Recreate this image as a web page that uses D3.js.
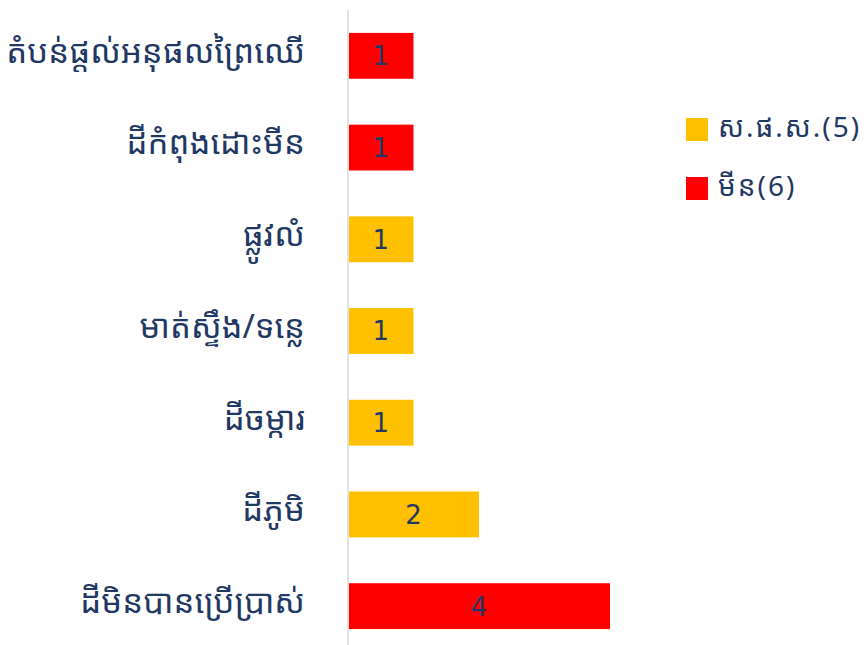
<!DOCTYPE html>
<html><head><meta charset="utf-8">
<script src="https://cdn.jsdelivr.net/npm/d3@7"></script>
<style>body{margin:0;background:#fff}svg{display:block}</style>
</head><body><svg id="c" width="867" height="645"></svg>
<script>
const categories = ["តំបន់ផ្តល់អនុផលព្រៃឈើ","ដីកំពុងដោះមីន","ផ្លូវលំ","មាត់ស្ទឹង/ទន្លេ","ដីចម្ការ","ដីភូមិ","ដីមិនបានប្រើប្រាស់"];
const values = [1,1,1,1,1,2,4];
const groups = ["mine","mine","uxo","uxo","uxo","uxo","mine"];
const seriesKeys = ["uxo","mine"];
const seriesNames = ["ស.ផ.ស.(5)","មីន(6)"];
const seriesColors = ["#FFC000","#FF0000"];

const svg = d3.select("#c");
const font = "'Noto Sans Khmer','Khmer OS','Khmer OS System','DejaVu Sans',sans-serif";
const x = d3.scaleLinear().domain([0,4]).range([348,610]);
const y = d3.scaleBand().domain(categories).range([10,652]).paddingInner(0.5).paddingOuter(0.25);
const color = d3.scaleOrdinal().domain(seriesKeys).range(seriesColors);

svg.append("line").attr("x1",348).attr("x2",348).attr("y1",10).attr("y2",645)
  .attr("stroke","#d9d9d9").attr("stroke-width",1.5);

const data = categories.map((c,i)=>({c,v:values[i],g:groups[i]}));
svg.selectAll("rect.bar").data(data).join("rect").attr("class","bar")
  .attr("x",x(0)+1).attr("y",d=>y(d.c)).attr("width",d=>x(d.v)-x(0)-1).attr("height",y.bandwidth())
  .attr("fill",d=>color(d.g));
svg.selectAll("text.val").data(data).join("text").attr("class","val")
  .attr("x",d=>(x(0)+x(d.v))/2).attr("y",d=>y(d.c)+y.bandwidth()/2)
  .attr("dy","0.36em").attr("text-anchor","middle")
  .attr("font-family","'DejaVu Sans',sans-serif").attr("font-size",26).attr("fill","#1f3864")
  .text(d=>d.v);
svg.selectAll("text.cat").data(data).join("text").attr("class","cat")
  .attr("x",305).attr("y",d=>y(d.c)+y.bandwidth()/2-5)
  .attr("dy","0.36em").attr("text-anchor","end")
  .attr("font-family",font).attr("font-size",33).attr("fill","#1f3864")
  .text(d=>d.c);

const leg = svg.append("g");
seriesKeys.forEach((k,i)=>{
  const g = leg.append("g").attr("transform",`translate(686,${118+i*59})`);
  g.append("rect").attr("width",22).attr("height",23).attr("fill",seriesColors[i]);
  g.append("text").attr("x",32).attr("y",9).attr("dy","0.36em")
   .attr("font-family",font).attr("font-size",28).attr("letter-spacing",2).attr("fill","#1f3864").text(seriesNames[i]);
});
</script></body></html>
